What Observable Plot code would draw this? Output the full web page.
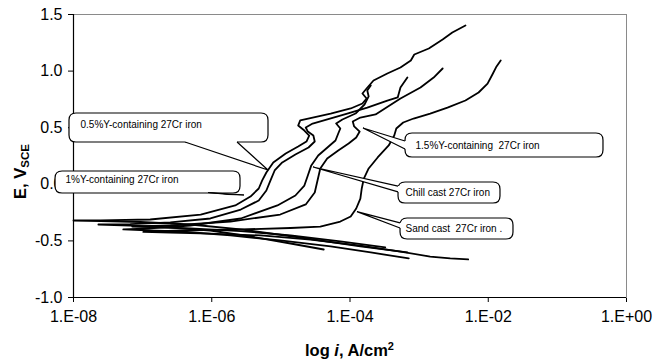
<!DOCTYPE html>
<html>
<head>
<meta charset="utf-8">
<script src="https://cdn.jsdelivr.net/npm/d3@7"></script>
<script src="https://cdn.jsdelivr.net/npm/@observablehq/plot@0.6"></script>
<style>
  html, body { margin: 0; padding: 0; background: #fff; }
  svg text { white-space: pre; }
</style>
</head>
<body>
<div id="chart"></div>
<script>
// Potentiodynamic polarization curves of 27Cr cast irons: [log10 i (A/cm2), E (V vs SCE)]
const curve05Y = [[-3.17,-0.602],[-3.85,-0.549],[-4.72,-0.470],[-5.58,-0.399],[-6.31,-0.355],[-7.03,-0.333],[-7.61,-0.324],[-8.00,-0.320],
  [-7.61,-0.318],[-6.89,-0.311],[-6.16,-0.267],[-5.66,-0.187],[-5.44,-0.108],[-5.32,-0.037],[-5.27,0.034],[-5.21,0.104],[-5.11,0.193],
  [-4.93,0.272],[-4.75,0.334],[-4.63,0.378],[-4.59,0.431],[-4.66,0.475],[-4.75,0.519],[-4.72,0.564],[-4.54,0.590],[-4.28,0.625],
  [-3.99,0.670],[-3.82,0.714],[-3.76,0.758],[-3.82,0.802],[-3.76,0.846],[-3.66,0.917],[-3.46,0.979],[-3.27,1.032],[-3.12,1.094],
  [-3.07,1.147],[-2.86,1.200],[-2.66,1.280],[-2.52,1.341],[-2.33,1.403]];

const curve1Y = [[-4.38,-0.576],[-4.86,-0.523],[-5.44,-0.461],[-6.02,-0.408],[-6.60,-0.382],[-7.18,-0.364],[-7.64,-0.355],
  [-7.18,-0.351],[-6.60,-0.337],[-6.02,-0.302],[-5.58,-0.223],[-5.32,-0.143],[-5.21,-0.055],[-5.15,0.034],[-5.09,0.122],[-4.98,0.193],
  [-4.79,0.263],[-4.60,0.325],[-4.51,0.378],[-4.53,0.431],[-4.61,0.466],[-4.64,0.502],[-4.54,0.537],[-4.24,0.590],[-4.04,0.625],
  [-3.75,0.678],[-3.46,0.740],[-3.31,0.767],[-3.27,0.855],[-3.17,0.943]];

const curveChill = [[-3.15,-0.655],[-3.70,-0.602],[-4.28,-0.549],[-5.01,-0.496],[-5.73,-0.452],[-6.45,-0.417],[-7.03,-0.404],[-7.28,-0.399],
  [-6.89,-0.390],[-6.31,-0.364],[-5.58,-0.302],[-5.05,-0.187],[-4.79,-0.099],[-4.66,-0.011],[-4.61,0.078],[-4.56,0.167],[-4.46,0.254],
  [-4.31,0.334],[-4.21,0.387],[-4.17,0.449],[-4.14,0.493],[-4.20,0.537],[-4.11,0.572],[-3.92,0.625],[-3.79,0.705],[-3.73,0.776],
  [-3.75,0.829],[-3.70,0.873]];

const curve15Y = [[-3.49,-0.558],[-4.14,-0.505],[-4.86,-0.452],[-5.58,-0.413],[-6.31,-0.390],[-6.89,-0.377],[-7.15,-0.373],
  [-6.60,-0.364],[-5.73,-0.329],[-5.01,-0.267],[-4.64,-0.178],[-4.51,-0.072],[-4.47,0.034],[-4.43,0.140],[-4.33,0.228],[-4.17,0.299],
  [-4.02,0.360],[-3.91,0.413],[-3.86,0.466],[-3.94,0.511],[-3.96,0.555],[-3.85,0.590],[-3.63,0.617],[-3.27,0.758],[-2.98,0.855],
  [-2.79,0.943],[-2.66,1.023]];

const curveSand = [[-2.29,-0.664],[-2.55,-0.655],[-2.84,-0.638],[-3.27,-0.594],[-3.85,-0.541],[-4.57,-0.488],[-5.29,-0.452],[-6.02,-0.435],
  [-6.60,-0.426],[-6.99,-0.421],[-6.45,-0.408],[-5.58,-0.399],[-4.86,-0.386],[-4.43,-0.373],[-4.14,-0.329],[-3.99,-0.284],[-3.91,-0.214],
  [-3.85,-0.126],[-3.83,-0.037],[-3.80,0.051],[-3.73,0.140],[-3.60,0.237],[-3.44,0.343],[-3.36,0.431],[-3.33,0.493],[-3.23,0.546],
  [-3.08,0.581],[-2.84,0.625],[-2.59,0.678],[-2.33,0.740],[-2.14,0.811],[-2.01,0.890],[-1.94,0.970],[-1.88,1.041],[-1.82,1.094]];

const curves = [curve05Y, curve1Y, curveChill, curve15Y, curveSand];

// Axis ticks
const xTicks = [-8, -6, -4, -2, 0];
const xTickLabels = ["1.E-08", "1.E-06", "1.E-04", "1.E-02", "1.E+00"];
const yTicks = [-1.0, -0.5, 0.0, 0.5, 1.0, 1.5];

// Callout labels and their anchors (log i, E)
const calloutLabels = ["0.5%Y-containing 27Cr iron", "1%Y-containing 27Cr iron", "1.5%Y-containing  27Cr iron", "Chill cast 27Cr iron", "Sand cast  27Cr iron ."];
const calloutTextX = [-7.899, -8.116, -3.052, -3.197, -3.197];
const calloutTextY = [0.525, 0.038, 0.343, -0.077, -0.395];

// Callout bubble outlines in data units: box extent, tail base on the box edge, tail tip
const calloutShapes = [
  {x0: -8.058, x1: -5.179, top: 0.6254, bottom: 0.3693, base: [[-6.380, 0.3693], [-5.627, 0.3693]], tip: [-5.179, 0.1219], solid: false},
  {x0: -8.260, x1: -5.584, top: 0.1131, bottom: -0.0813, base: [[-6.047, -0.0813], [-5.758, -0.0813]], tip: [-5.526, -0.0989], solid: true},
  {x0: -3.197, x1: -0.333, top: 0.4488, bottom: 0.2367, base: [[-3.197, 0.378], [-3.197, 0.307]], tip: [-3.805, 0.4929], solid: false},
  {x0: -3.298, x1: -1.823, top: 0.0159, bottom: -0.1696, base: [[-3.298, -0.020], [-3.298, -0.072]], tip: [-4.528, 0.1484], solid: false},
  {x0: -3.269, x1: -1.635, top: -0.3021, bottom: -0.4876, base: [[-3.269, -0.345], [-3.269, -0.390]], tip: [-3.892, -0.2456], solid: false}
];

const callouts = calloutLabels.map((label, i) => ({label, x: calloutTextX[i], y: calloutTextY[i]}));

const chart = Plot.plot({
  width: 662,
  height: 362,
  marginLeft: 73,
  marginRight: 36,
  marginTop: 14,
  marginBottom: 65,
  style: {fontFamily: "'Liberation Sans', Arial, sans-serif", fontSize: "16px", background: "white", color: "black"},
  x: {domain: [-8, 0], ticks: xTicks, tickFormat: d => xTickLabels[xTicks.indexOf(d)], tickSize: 5, tickPadding: 8, label: null},
  y: {domain: [-1, 1.5], ticks: yTicks, tickFormat: d => d.toFixed(1), tickSize: 5, tickPadding: 6, label: null},
  marks: [
    Plot.frame({stroke: "#8a8a8a"}),
    Plot.ruleX([-8], {stroke: "black", strokeWidth: 1.2}),
    Plot.ruleY([-1], {stroke: "black", strokeWidth: 1.2}),
    ...curves.map(c => Plot.line(c, {x: d => d[0], y: d => d[1], stroke: "black", strokeWidth: 1.8, strokeLinejoin: "round"})),
    Plot.text(callouts, {x: "x", y: "y", text: "label", textAnchor: "start", fontSize: 10, fill: "black"})
  ]
});

document.getElementById("chart").appendChild(chart);

// Callout bubbles, positioned through the plot's own scales
const sx = chart.scale("x"), sy = chart.scale("y");
const X = sx.apply ? v => sx.apply(v) : d3.scaleLinear(sx.domain, sx.range);
const Y = sy.apply ? v => sy.apply(v) : d3.scaleLinear(sy.domain, sy.range);
const svg = d3.select(chart);

function roundedRect(x0, y0, x1, y1, r) {
  return `M${x0 + r},${y0}H${x1 - r}Q${x1},${y0} ${x1},${y0 + r}V${y1 - r}Q${x1},${y1} ${x1 - r},${y1}` +
         `H${x0 + r}Q${x0},${y1} ${x0},${y1 - r}V${y0 + r}Q${x0},${y0} ${x0 + r},${y0}Z`;
}

const layer = svg.append("g").attr("class", "callouts");
calloutShapes.forEach(b => {
  const x0 = X(b.x0), x1 = X(b.x1), y0 = Y(b.top), y1 = Y(b.bottom);
  layer.append("path")
    .attr("d", roundedRect(x0, y0, x1, y1, 7))
    .attr("fill", "white").attr("stroke", "black").attr("stroke-width", 1.2);
  const p1 = [X(b.base[0][0]), Y(b.base[0][1])];
  const p2 = [X(b.base[1][0]), Y(b.base[1][1])];
  const t = [X(b.tip[0]), Y(b.tip[1])];
  const cx = (x0 + x1) / 2, cy = (y0 + y1) / 2;
  const mx = (p1[0] + p2[0]) / 2, my = (p1[1] + p2[1]) / 2;
  let ix = 0, iy = 0;
  if (Math.abs(p1[1] - p2[1]) < Math.abs(p1[0] - p2[0])) iy = Math.sign(cy - my) * 2.5;
  else ix = Math.sign(cx - mx) * 2.5;
  if (b.solid) {
    // narrow wedge drawn as a filled black tail
    layer.append("path")
      .attr("d", `M${p1[0]},${p1[1] - 0.5}L${t[0]},${t[1]}L${p2[0]},${p2[1] + 1.5}Z`)
      .attr("fill", "black").attr("stroke", "black").attr("stroke-width", 1);
    return;
  }
  layer.append("path")
    .attr("d", `M${p1[0]},${p1[1]}L${t[0]},${t[1]}L${p2[0]},${p2[1]}L${p2[0] + ix},${p2[1] + iy}L${p1[0] + ix},${p1[1] + iy}Z`)
    .attr("fill", "white").attr("stroke", "none");
  layer.append("path")
    .attr("d", `M${p1[0]},${p1[1]}L${t[0]},${t[1]}L${p2[0]},${p2[1]}`)
    .attr("fill", "none").attr("stroke", "black").attr("stroke-width", 1.2).attr("stroke-linejoin", "miter");
});
svg.selectAll('g[aria-label="text"]').raise();

// Axis titles
const xMid = (X(-8) + X(0)) / 2;
const xTitle = svg.append("text")
  .attr("x", xMid).attr("y", 356)
  .attr("text-anchor", "middle").attr("font-weight", "bold").attr("font-size", 16.5).attr("fill", "black");
xTitle.append("tspan").text("log ");
xTitle.append("tspan").attr("font-style", "italic").text("i");
xTitle.append("tspan").text(", A/cm");
xTitle.append("tspan").attr("font-size", 11).attr("dy", -6).text("2");

const yTitle = svg.append("text")
  .attr("transform", `translate(26,${(Y(-1) + Y(1.5)) / 2 + 16}) rotate(-90)`)
  .attr("text-anchor", "middle").attr("font-weight", "bold").attr("font-size", 16.5).attr("fill", "black");
yTitle.append("tspan").text("E, V");
yTitle.append("tspan").attr("font-size", 11.5).attr("dy", 3).text("SCE");
</script>
</body>
</html>
